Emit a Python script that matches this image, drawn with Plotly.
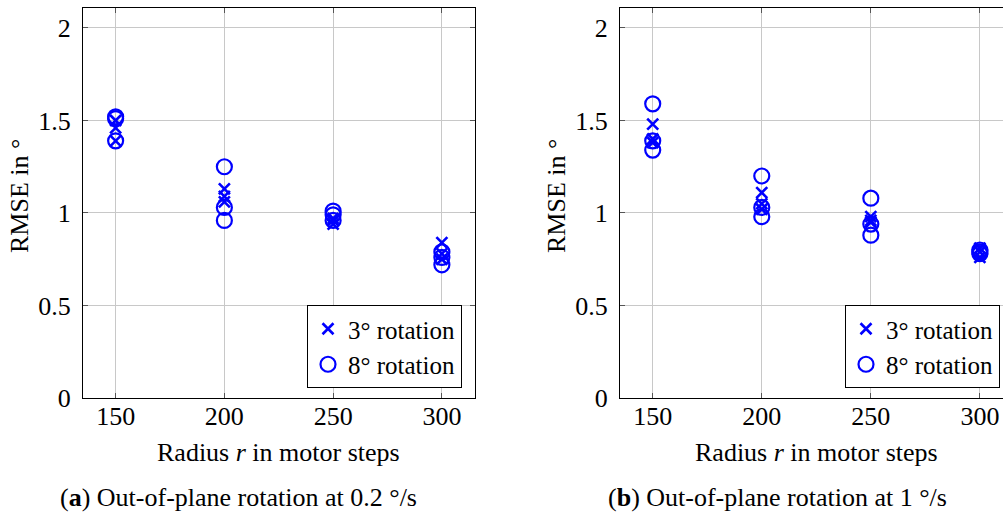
import plotly.graph_objects as go

# ---------------- data ----------------
radius_levels = [150, 200, 250, 300]
x_tick_vals = [150, 200, 250, 300]
y_tick_vals = [0, 0.5, 1, 1.5, 2]
y_tick_text = ["0", "0.5", "1", "1.5", "2"]

# Panel (a): out-of-plane rotation at 0.2 °/s
a_rot3 = [[1.50, 1.46, 1.39], [1.13, 1.09, 1.06], [0.97, 0.96, 0.94], [0.84, 0.78, 0.75]]
a_rot8 = [[1.52, 1.51, 1.39], [1.25, 1.03, 0.96], [1.01, 0.99, 0.96], [0.79, 0.76, 0.72]]
# Panel (b): out-of-plane rotation at 1 °/s
b_rot3 = [[1.48, 1.40, 1.38], [1.11, 1.05, 1.02], [0.98, 0.96, 0.95], [0.81, 0.79, 0.76]]
b_rot8 = [[1.59, 1.39, 1.34], [1.20, 1.03, 0.98], [1.08, 0.94, 0.88], [0.80, 0.79, 0.78]]

series_names = ["3° rotation", "8° rotation"]
x_title = "Radius <i>r</i> in motor steps"
y_title = "RMSE in °"
captions = ["(<b>a</b>) Out-of-plane rotation at 0.2 °/s",
            "(<b>b</b>) Out-of-plane rotation at 1 °/s"]


def expand(levels, groups):
    xs, ys = [], []
    for lv, g in zip(levels, groups):
        for v in g:
            xs.append(lv)
            ys.append(v)
    return xs, ys


FONT = "Liberation Serif"
FS = 26
LFS = 25
BLUE = "#0000ff"
W, H = 1003, 515

fig = go.Figure()

panels = [("x", "y", "legend", a_rot3, a_rot8), ("x2", "y2", "legend2", b_rot3, b_rot8)]
for xa, ya, lg, r3, r8 in panels:
    xs, ys = expand(radius_levels, r3)
    fig.add_trace(go.Scatter(x=xs, y=ys, mode="markers", name=series_names[0],
                             xaxis=xa, yaxis=ya, legend=lg,
                             marker=dict(symbol="x-thin-open", size=11, color=BLUE,
                                         line=dict(color=BLUE, width=2.6))))
    xs, ys = expand(radius_levels, r8)
    fig.add_trace(go.Scatter(x=xs, y=ys, mode="markers", name=series_names[1],
                             xaxis=xa, yaxis=ya, legend=lg,
                             marker=dict(symbol="circle-open", size=15, color=BLUE,
                                         line=dict(color=BLUE, width=2.2))))

ytop, ybot = 8, 398
ydom = [1 - ybot / H, 1 - ytop / H]

axis_common = dict(showline=True, linecolor="black", linewidth=1,
                   ticks="inside", ticklen=5, tickcolor="#555", tickwidth=1,
                   showgrid=True, gridcolor="#c8c8c8", gridwidth=1,
                   zeroline=False, tickfont=dict(family=FONT, size=FS, color="black"))

fig.update_layout(
    autosize=False,
    width=W, height=H,
    margin=dict(l=0, r=0, t=0, b=0, pad=0, autoexpand=False),
    paper_bgcolor="white", plot_bgcolor="white",
    font=dict(family=FONT, size=FS, color="black"),
    xaxis=dict(domain=[83 / W, 474.5 / W], range=[135, 315], tickvals=x_tick_vals,
               mirror="allticks", anchor="y", ticklabelstandoff=-5, **axis_common),
    yaxis=dict(domain=ydom, range=[0, 2.108], tickvals=y_tick_vals, ticktext=y_tick_text,
               mirror="allticks", anchor="x", ticklabelstandoff=6, **axis_common),
    xaxis2=dict(domain=[620 / W, 1.0], range=[135, 310.6], tickvals=x_tick_vals,
                mirror="allticks", anchor="y2", ticklabelstandoff=-5, **axis_common),
    yaxis2=dict(domain=ydom, range=[0, 2.108], tickvals=y_tick_vals, ticktext=y_tick_text,
                mirror=False, anchor="x2", ticklabelstandoff=6, **axis_common),
    legend=dict(x=462 / W, y=1 - 388 / H, xanchor="right", yanchor="bottom",
                bordercolor="black", borderwidth=1, bgcolor="white",
                font=dict(family=FONT, size=LFS), tracegroupgap=0, itemwidth=30),
    legend2=dict(x=1000 / W, y=1 - 388 / H, xanchor="right", yanchor="bottom",
                 bordercolor="black", borderwidth=1, bgcolor="white",
                 font=dict(family=FONT, size=LFS), tracegroupgap=0, itemwidth=30),
    showlegend=True,
)

ann = []
for cx_title, cx_cap, cx_y, cap in [(278.75, 238, 20, captions[0]), (816, 777, 557, captions[1])]:
    ann.append(dict(text=x_title, x=cx_title / W, y=1 - 452 / H, xref="paper", yref="paper",
                    xanchor="center", yanchor="middle", showarrow=False,
                    font=dict(family=FONT, size=FS)))
    ann.append(dict(text=cap, x=cx_cap / W, y=1 - 497 / H, xref="paper", yref="paper",
                    xanchor="center", yanchor="middle", showarrow=False,
                    font=dict(family=FONT, size=FS)))
    ann.append(dict(text=y_title, x=cx_y / W, y=1 - 196 / H, xref="paper", yref="paper",
                    xanchor="center", yanchor="middle", showarrow=False, textangle=-90,
                    font=dict(family=FONT, size=FS)))
fig.update_layout(annotations=ann)

fig.write_html("out.html", config={"responsive": False})
